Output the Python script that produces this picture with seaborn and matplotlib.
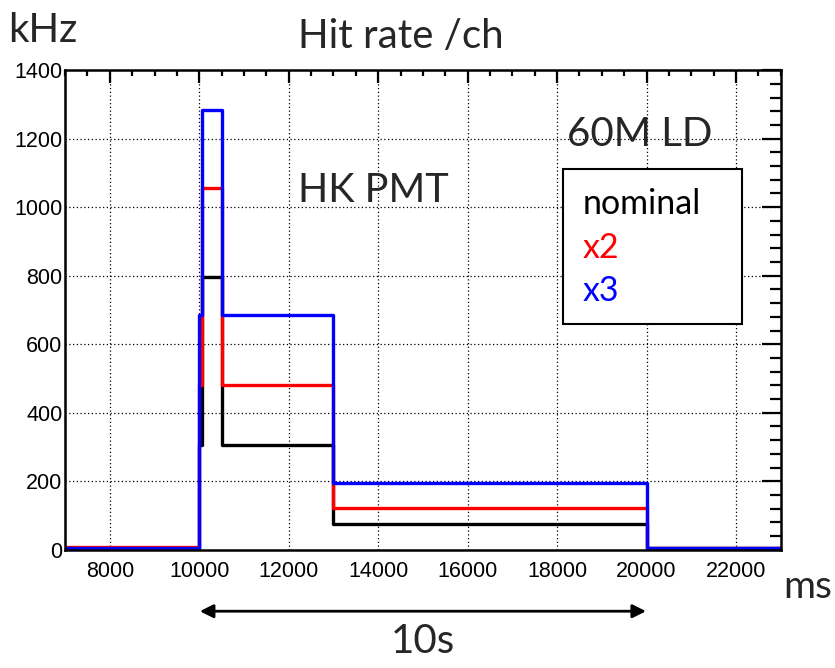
import numpy as np
import pandas as pd
import matplotlib
matplotlib.use("Agg")
import matplotlib.pyplot as plt
from matplotlib.patches import Rectangle
from matplotlib.ticker import MultipleLocator
import seaborn as sns

# --- Data ---
EDGES = [7000, 10000, 10060, 10500, 13000, 20000, 23000]
NOMINAL = [6, 305, 797, 305, 76, 6]
X2 = [7, 480, 1055, 480, 122, 6]
X3 = [6, 686, 1285, 686, 194, 6]
SERIES = ["nominal", "x2", "x3"]
COLORS = {"nominal": "black", "x2": "#ff0000", "x3": "#0000ff"}

sns.set_theme(style="white")
plt.rcParams["font.family"] = ["Liberation Sans", "DejaVu Sans"]
LABEL_FONT = ["Lato", "DejaVu Sans"]
BIG = 29

rows = []
for name, levels in zip(SERIES, [NOMINAL, X2, X3]):
    vals = list(levels) + [levels[-1]]  # steps-post needs last value repeated
    for x, y in zip(EDGES, vals):
        rows.append({"time": x, "rate": y, "series": name})
df = pd.DataFrame(rows)

fig = plt.figure(figsize=(8.35, 6.68), dpi=100)
ax = fig.add_axes([0.078, 0.177, 0.857, 0.718])

sns.lineplot(data=df, x="time", y="rate", hue="series", palette=COLORS,
             estimator=None, sort=False, drawstyle="steps-post",
             linewidth=2.4, legend=False, ax=ax)

ax.set_xlim(7000, 23000)
ax.set_ylim(0, 1400)
ax.set_xlabel("")
ax.set_ylabel("")
ax.xaxis.set_major_locator(MultipleLocator(2000))
ax.xaxis.set_minor_locator(MultipleLocator(500))
ax.yaxis.set_major_locator(MultipleLocator(200))
ax.yaxis.set_minor_locator(MultipleLocator(40))
ax.grid(True, which="major", color="black", linestyle=(0, (1, 2)), linewidth=0.9)

for sp in ax.spines.values():
    sp.set_visible(True)
    sp.set_color("black")
    sp.set_linewidth(1.8)

ax.tick_params(axis="both", which="both", direction="in", top=True, right=True,
               colors="black", width=1.6, labelsize=15.5)
ax.tick_params(axis="y", which="major", length=14, pad=2)
ax.tick_params(axis="y", which="minor", length=8)
ax.tick_params(axis="x", which="major", length=9, pad=8)
ax.tick_params(axis="x", which="minor", length=4.5)

# annotations
fig.text(0.010, 0.955, "kHz", fontsize=BIG, family=LABEL_FONT, va="center", ha="left")
fig.text(0.48, 0.945, "Hit rate /ch", fontsize=BIG, family=LABEL_FONT, va="center", ha="center")
fig.text(0.997, 0.122, "ms", fontsize=BIG - 1, family=LABEL_FONT, va="center", ha="right")
fig.text(0.506, 0.040, "10s", fontsize=BIG, family=LABEL_FONT, va="center", ha="center")
ax.annotate("", xy=(20050, 0.085), xytext=(9950, 0.085),
            xycoords=("data", "figure fraction"), textcoords=("data", "figure fraction"),
            arrowprops=dict(arrowstyle="<|-|>", color="black", lw=2, mutation_scale=20),
            annotation_clip=False)

ax.text(13900, 1050, "HK PMT", fontsize=BIG - 0.5, family=LABEL_FONT, ha="center", va="center")
ax.text(19850, 1212, "60M LD", fontsize=BIG, family=LABEL_FONT, ha="center", va="center")

ax.add_patch(Rectangle((0.696, 0.47), 0.25, 0.323, transform=ax.transAxes,
                       facecolor="white", edgecolor="black", linewidth=1.5, zorder=5))
for i, name in enumerate(SERIES):
    ax.text(0.723, 0.72 - i * 0.09, name, transform=ax.transAxes, fontsize=24.5,
            family=LABEL_FONT, color=COLORS[name], ha="left", va="center", zorder=6)

fig.savefig("out.png", dpi=100)
